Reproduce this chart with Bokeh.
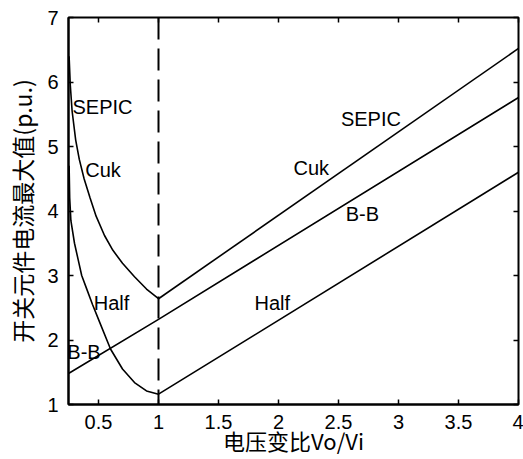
from bokeh.plotting import figure
from bokeh.models import Range1d, FixedTicker, LinearAxis, Label, Span
from bokeh.embed import file_html
from bokeh.resources import INLINE

# ---- data ----
x_ticks = [0.5, 1, 1.5, 2, 2.5, 3, 3.5, 4]
x_tick_labels = ["0.5", "1", "1.5", "2", "2.5", "3", "3.5", "4"]
y_ticks = [1, 2, 3, 4, 5, 6, 7]
y_tick_labels = ["1", "2", "3", "4", "5", "6", "7"]

# SEPIC / Cuk, buck region (Vo/Vi < 1)
sepic_left_x = [0.255, 0.265, 0.28, 0.31, 0.34, 0.38, 0.43, 0.48, 0.55, 0.62, 0.7, 0.8, 0.9, 1.0]
sepic_left_y = [6.4, 5.95, 5.55, 5.1, 4.8, 4.5, 4.2, 3.92, 3.62, 3.39, 3.19, 2.98, 2.79, 2.64]
# Half / B-B, buck region
half_left_x = [0.255, 0.26, 0.27, 0.3, 0.33, 0.36, 0.4, 0.45, 0.5, 0.6, 0.7, 0.8, 0.9, 1.0]
half_left_y = [4.7, 4.2, 3.85, 3.5, 3.25, 3.0, 2.8, 2.55, 2.32, 1.86, 1.55, 1.34, 1.21, 1.16]
# boost region lines
sepic_right_x = [1.0, 4.0]
sepic_right_y = [2.64, 6.52]
bb_x = [0.25, 1.0, 4.0]
bb_y = [1.48, 2.32, 5.76]
half_right_x = [1.0, 4.0]
half_right_y = [1.16, 4.6]

labels_text = ["SEPIC", "Cuk", "Half", "B-B", "SEPIC", "Cuk", "B-B", "Half"]
labels_x = [0.283, 0.39, 0.46, 0.24, 2.52, 2.125, 2.56, 1.8]
labels_y = [5.62, 4.63, 2.58, 1.81, 5.42, 4.66, 3.95, 2.58]

x_title = "电压变比Vo/Vi"
y_title = "开关元件电流最大值(p.u.)"

LATIN = "Liberation Sans"
CJK = "Noto Sans CJK SC"

p = figure(width=523, height=459, x_range=Range1d(0.25, 4), y_range=Range1d(1, 7),
           output_backend="svg", toolbar_location=None,
           min_border_left=68, min_border_right=5, min_border_top=17, min_border_bottom=55,
           x_axis_location=None, y_axis_location=None)
p.grid.visible = False
p.outline_line_color = "black"
p.outline_line_width = 2
p.background_fill_color = "white"
p.border_fill_color = "white"


def make_axis(labels_on, ticks, tick_labels):
    ax = LinearAxis(ticker=FixedTicker(ticks=ticks))
    ax.major_tick_in = 5
    ax.major_tick_out = 0
    ax.major_tick_line_width = 1.5
    ax.major_tick_line_color = "black"
    ax.minor_tick_line_color = None
    ax.axis_line_color = "black"
    ax.axis_line_width = 2
    if labels_on:
        ax.major_label_overrides = {float(t): s for t, s in zip(ticks, tick_labels)}
        ax.major_label_text_font = LATIN
        ax.major_label_text_font_size = "20px"
        ax.major_label_text_color = "black"
        ax.major_label_standoff = 10
    else:
        ax.major_label_overrides = {float(t): "" for t in ticks}
        ax.major_label_standoff = 0
        ax.axis_line_color = None
    return ax


xb = make_axis(True, x_ticks, x_tick_labels)
xb.axis_label = x_title
xb.axis_label_text_font = CJK
xb.axis_label_text_font_size = "22px"
xb.axis_label_text_font_style = "normal"
xb.axis_label_text_color = "black"
xb.axis_label_standoff = -8
p.add_layout(xb, "below")

yl = make_axis(True, y_ticks, y_tick_labels)
yl.axis_label = y_title
yl.axis_label_text_font = CJK
yl.axis_label_text_font_size = "23px"
yl.axis_label_text_font_style = "normal"
yl.axis_label_text_color = "black"
yl.axis_label_standoff = 5
p.add_layout(yl, "left")

p.add_layout(make_axis(False, x_ticks, x_tick_labels), "above")
p.add_layout(make_axis(False, y_ticks, y_tick_labels), "right")

lw = 1.6
p.line(sepic_left_x, sepic_left_y, line_color="black", line_width=lw)
p.line(half_left_x, half_left_y, line_color="black", line_width=lw)
p.line(sepic_right_x, sepic_right_y, line_color="black", line_width=lw)
p.line(bb_x, bb_y, line_color="black", line_width=lw)
p.line(half_right_x, half_right_y, line_color="black", line_width=lw)

p.add_layout(Span(location=1, dimension="height", line_color="black",
                  line_width=2, line_dash="22 9"))

for t, x, y in zip(labels_text, labels_x, labels_y):
    p.add_layout(Label(x=x, y=y, text=t, text_font=LATIN, text_font_size="20px",
                       text_color="black", text_align="left", text_baseline="middle"))

open("out.html", "w").write(file_html(p, INLINE))
